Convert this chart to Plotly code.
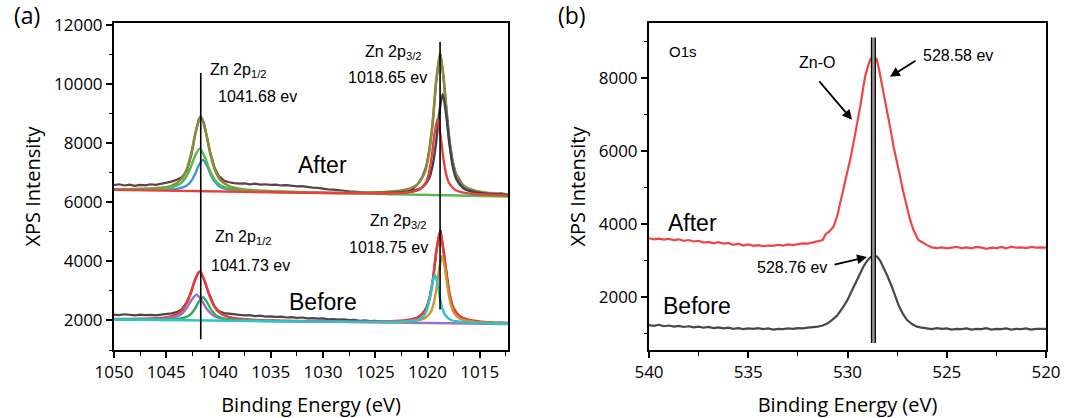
import plotly.graph_objects as go

# ---------------- Panel (a): Zn 2p ----------------
# After: raw spectrum (binding energy, intensity)
A_RAW = [(1050, 6580), (1049.5, 6610), (1049, 6570), (1048.5, 6600), (1048, 6560), (1047.5, 6590),
         (1047, 6575), (1046.5, 6610), (1046, 6590), (1045.5, 6630), (1045, 6650), (1044.5, 6700),
         (1044, 6760), (1043.5, 6850), (1043, 7090), (1042.6, 7600), (1042.2, 8350), (1041.9, 8800),
         (1041.7, 8920), (1041.4, 8700), (1041.1, 8200), (1040.8, 7700), (1040.4, 7200), (1040, 6900),
         (1039.5, 6740), (1039, 6680), (1038.5, 6650), (1038, 6630), (1037.5, 6640), (1037, 6610),
         (1036.5, 6630), (1036, 6600), (1035.5, 6610), (1035, 6590), (1034.5, 6600), (1034, 6570),
         (1033.5, 6580), (1033, 6560), (1032.5, 6540), (1032, 6550), (1031.5, 6520), (1031, 6500),
         (1030.5, 6490), (1030, 6460), (1029.5, 6440), (1029, 6430), (1028.5, 6400), (1028, 6390),
         (1027.5, 6370), (1027, 6360), (1026.5, 6340), (1026, 6330), (1025.5, 6310), (1025, 6320),
         (1024.5, 6290), (1024, 6300), (1023.5, 6280), (1023, 6310), (1022.5, 6300), (1022, 6340),
         (1021.5, 6420), (1021, 6590), (1020.5, 6850), (1020.1, 7250), (1019.8, 7850), (1019.5, 8700),
         (1019.2, 10000), (1018.95, 10700), (1018.75, 11000), (1018.5, 10300), (1018.2, 9200),
         (1017.9, 8100), (1017.6, 7400), (1017.3, 6980), (1017, 6800), (1016.6, 6570), (1016.2, 6480),
         (1015.8, 6420), (1015.4, 6350), (1015, 6310), (1014.5, 6290), (1014, 6310), (1013.5, 6280),
         (1013, 6300), (1012.5, 6270), (1012.3, 6280)]

A_ENV_X = [1050, 1047.22, 1045.38, 1044.46, 1043.54, 1043.08, 1042.62, 1042.16, 1041.7, 1041.24,
           1040.78, 1040.32, 1039.86, 1038.94, 1038.02, 1036.18, 1032.5, 1029,
           1026, 1023.12, 1021.68, 1020.96, 1020.24, 1019.88, 1019.52, 1019.16, 1018.8, 1018.44,
           1018.08, 1017.72, 1017.36, 1016.64, 1015.92, 1014.48, 1012.3]
A_ENV_Y = [6443, 6453, 6498, 6566, 6789, 7089, 7641, 8420, 8896, 8415,
           7631, 7075, 6770, 6538, 6460, 6395, 6346, 6325,
           6332, 6374, 6472, 6607, 7034, 7607, 8659, 10143, 11051, 10139,
           8652, 7596, 7019, 6585, 6442, 6330, 6270]

A_GREEN_X = [1050, 1047.5, 1045.6, 1044.65, 1043.7, 1043.23, 1042.75, 1042.28, 1041.8, 1041.33,
             1040.85, 1040.38, 1039.9, 1038.95, 1038.0, 1036.1, 1032.3, 1012.3]
A_GREEN_Y = [6434, 6433, 6455, 6492, 6616, 6787, 7101, 7545, 7817, 7540,
             7092, 6772, 6597, 6463, 6416, 6374, 6337, 6195]

A_BLUE_X = [1050, 1046.3, 1044.7, 1043.9, 1043.1, 1042.7, 1042.3, 1041.9, 1041.5, 1041.1,
            1040.7, 1040.3, 1039.9, 1039.1, 1038.3, 1036.7, 1033.5]
A_BLUE_Y = [6426, 6421, 6436, 6463, 6554, 6679, 6910, 7237, 7436, 7233,
            6902, 6667, 6537, 6437, 6402, 6371, 6341]

A_RED_X = [1050, 1030, 1024.55, 1022.35, 1021.25, 1020.7, 1020.15, 1019.88, 1019.6, 1019.33,
           1019.05, 1018.78, 1018.5, 1018.23, 1017.95, 1017.4, 1016.85, 1015.75, 1013.55, 1012.3]
A_RED_Y = [6420, 6317, 6305, 6324, 6375, 6447, 6673, 6977, 7537, 8327,
           8810, 8324, 7532, 6969, 6662, 6430, 6353, 6291, 6249, 6227]

A_GRAY_X = [1025.05, 1022.45, 1021.15, 1020.5, 1019.85, 1019.53, 1019.2, 1018.88, 1018.55, 1018.23,
            1017.9, 1017.58, 1017.25, 1016.6, 1015.95, 1014.65, 1012.3]
A_GRAY_Y = [6314, 6342, 6409, 6505, 6808, 7214, 7960, 9012, 9657, 9009,
            7954, 7204, 6794, 6485, 6383, 6302, 6250]

# Before
B_RAW = [(1050, 2200), (1049.5, 2180), (1049, 2210), (1048.5, 2190), (1048, 2170), (1047.5, 2200),
         (1047, 2180), (1046.5, 2190), (1046, 2170), (1045.5, 2200), (1045, 2210), (1044.5, 2240),
         (1044, 2280), (1043.5, 2380), (1043, 2640), (1042.6, 2980), (1042.2, 3420), (1041.9, 3630),
         (1041.7, 3650), (1041.4, 3400), (1041.1, 3080), (1040.8, 2800), (1040.4, 2480), (1040, 2320),
         (1039.5, 2250), (1039, 2230), (1038.5, 2200), (1038, 2190), (1037.5, 2170), (1037, 2180),
         (1036.5, 2150), (1036, 2160), (1035.5, 2130), (1035, 2140), (1034.5, 2120), (1034, 2130),
         (1033.5, 2100), (1033, 2110), (1032.5, 2090), (1032, 2100), (1031.5, 2070), (1031, 2080),
         (1030.5, 2060), (1030, 2070), (1029.5, 2040), (1029, 2050), (1028.5, 2030), (1028, 2040),
         (1027.5, 2010), (1027, 2020), (1026.5, 1990), (1026, 2000), (1025.5, 1980), (1025, 1990),
         (1024.5, 1960), (1024, 1970), (1023.5, 1950), (1023, 1960), (1022.5, 1970), (1022, 1990),
         (1021.5, 2030), (1021, 2090), (1020.5, 2230), (1020.1, 2430), (1019.8, 2780), (1019.5, 3350),
         (1019.2, 4230), (1018.95, 4800), (1018.75, 5060), (1018.5, 4450), (1018.2, 3600),
         (1017.9, 2900), (1017.6, 2480), (1017.3, 2290), (1017, 2170), (1016.6, 2080), (1016.2, 2030),
         (1015.8, 1990), (1015.4, 1940), (1015, 1950), (1014.5, 1920), (1014, 1940), (1013.5, 1910),
         (1013, 1930), (1012.5, 1920), (1012.3, 1910)]

B_RED_X = [1050, 1047.5, 1045.6, 1044.65, 1043.7, 1043.23, 1042.75, 1042.28, 1041.8, 1041.33,
           1040.85, 1040.38, 1039.9, 1038.95, 1038.0, 1036.1, 1032.3, 1029,
           1025.3, 1022.7, 1021.4, 1020.75, 1020.1, 1019.78, 1019.45, 1019.13, 1018.8, 1018.48,
           1018.15, 1017.83, 1017.5, 1016.85, 1016.2, 1014.9, 1012.3]
B_RED_Y = [2046, 2053, 2082, 2126, 2273, 2470, 2833, 3347, 3660, 3343,
           2827, 2460, 2259, 2106, 2054, 2011, 1977, 1962,
           1960, 1987, 2050, 2137, 2411, 2779, 3455, 4408, 4990, 4405,
           3450, 2772, 2401, 2122, 2030, 1958, 1912]

B_PURPLE_X = [1050, 1047.5, 1045.7, 1044.8, 1043.9, 1043.45, 1043.0, 1042.55, 1042.1, 1041.65,
              1041.2, 1040.75, 1040.3, 1039.4, 1038.5, 1036.7, 1033.1, 1012.3]
B_PURPLE_Y = [2038, 2038, 2050, 2072, 2146, 2250, 2439, 2707, 2871, 2704,
              2432, 2240, 2133, 2052, 2024, 1998, 1973, 1878]

B_GREEN_X = [1050, 1046, 1044.5, 1043.75, 1043, 1042.63, 1042.25, 1041.88, 1041.5, 1041.13,
             1040.75, 1040.38, 1040, 1039.25, 1038.5, 1037, 1034]
B_GREEN_Y = [2033, 2030, 2041, 2061, 2130, 2223, 2396, 2639, 2788, 2637,
             2390, 2215, 2119, 2045, 2019, 1996, 1976]

B_CYAN_X = [1050, 1035, 1024.3, 1022.3, 1021.3, 1020.8, 1020.3, 1020.05, 1019.8, 1019.55,
            1019.3, 1019.05, 1018.8, 1018.55, 1018.3, 1017.8, 1017.3, 1016.3, 1014.3, 1012.3]
B_CYAN_Y = [2030, 1974, 1946, 1958, 1991, 2037, 2182, 2378, 2738, 3245,
            3556, 3243, 2734, 2372, 2174, 2026, 1976, 1936, 1908, 1890]

B_ORANGE_X = [1024.1, 1021.9, 1020.8, 1020.25, 1019.7, 1019.43, 1019.15, 1018.88, 1018.6, 1018.33,
              1018.05, 1017.78, 1017.5, 1016.95, 1016.4, 1015.3, 1013.1, 1012.3]
B_ORANGE_Y = [1950, 1969, 2015, 2079, 2281, 2553, 3051, 3754, 4184, 3752,
              3047, 2547, 2273, 2067, 1999, 1945, 1909, 1895]

# peak marker lines in (a): position, lower end, upper end
A_PEAK_LINES = [(1041.7, 1360, 10380), (1018.8, 2370, 11430)]

# ---------------- Panel (b): O 1s ----------------
O_AFTER = [(540, 3610), (539.75, 3580), (539.5, 3600), (539.25, 3570), (539, 3590), (538.75, 3560),
           (538.5, 3580), (538.25, 3540), (538, 3560), (537.75, 3520), (537.5, 3540), (537.25, 3490),
           (537, 3510), (536.75, 3470), (536.5, 3500), (536.25, 3460), (536, 3480), (535.75, 3430),
           (535.5, 3460), (535.25, 3410), (535, 3440), (534.75, 3400), (534.5, 3420), (534.25, 3390),
           (534, 3410), (533.75, 3400), (533.5, 3430), (533.25, 3410), (533, 3440), (532.75, 3420),
           (532.5, 3450), (532.25, 3470), (532, 3460), (531.75, 3500), (531.5, 3530), (531.25, 3560),
           (531.1, 3720), (530.9, 3800), (530.7, 3930), (530.5, 4250), (530.37, 4570), (530.2, 4950),
           (530.03, 5390), (529.85, 5800), (529.7, 6210), (529.5, 6750), (529.36, 7210), (529.2, 7750),
           (529.11, 8040), (528.98, 8300), (528.86, 8490), (528.69, 8630), (528.52, 8490), (528.4, 8200),
           (528.27, 7850), (528.1, 7400), (527.94, 6940), (527.8, 6500), (527.68, 6120), (527.5, 5700),
           (527.35, 5300), (527.2, 4900), (527.01, 4470), (526.85, 4120), (526.68, 3840), (526.55, 3680),
           (526.43, 3560), (526.3, 3520), (526.17, 3470), (526, 3420), (525.75, 3360), (525.5, 3340),
           (525.25, 3360), (525, 3330), (524.75, 3350), (524.5, 3370), (524.25, 3340), (524, 3360),
           (523.75, 3330), (523.5, 3370), (523.25, 3350), (523, 3320), (522.75, 3350), (522.5, 3340),
           (522.25, 3370), (522, 3330), (521.75, 3380), (521.5, 3350), (521.25, 3360), (521, 3340),
           (520.75, 3370), (520.5, 3350), (520.25, 3360), (520, 3350)]

O_BEFORE = [(540, 1230), (539.75, 1210), (539.5, 1240), (539.25, 1200), (539, 1220), (538.75, 1190),
            (538.5, 1210), (538.25, 1180), (538, 1200), (537.75, 1170), (537.5, 1190), (537.25, 1160),
            (537, 1180), (536.75, 1150), (536.5, 1170), (536.25, 1140), (536, 1160), (535.75, 1130),
            (535.5, 1150), (535.25, 1120), (535, 1140), (534.75, 1130), (534.5, 1150), (534.25, 1120),
            (534, 1140), (533.75, 1110), (533.5, 1130), (533.25, 1120), (533, 1140), (532.75, 1130),
            (532.5, 1150), (532.25, 1140), (532, 1160), (531.75, 1170), (531.5, 1190), (531.25, 1220),
            (531, 1280), (530.75, 1380), (530.5, 1510), (530.25, 1700), (530, 1920), (529.8, 2150),
            (529.6, 2380), (529.4, 2600), (529.2, 2830), (529.05, 2960), (528.9, 3060), (528.7, 3150),
            (528.5, 3100), (528.35, 2990), (528.2, 2830), (528, 2590), (527.8, 2330), (527.6, 2030),
            (527.4, 1740), (527.2, 1530), (527, 1370), (526.75, 1260), (526.5, 1190), (526.25, 1160),
            (526, 1140), (525.75, 1120), (525.5, 1150), (525.25, 1130), (525, 1140), (524.75, 1110),
            (524.5, 1130), (524.25, 1120), (524, 1140), (523.75, 1110), (523.5, 1130), (523.25, 1120),
            (523, 1150), (522.75, 1110), (522.5, 1130), (522.25, 1120), (522, 1140), (521.75, 1110),
            (521.5, 1130), (521.25, 1120), (521, 1140), (520.75, 1110), (520.5, 1130), (520.25, 1120),
            (520, 1130)]

B_PEAK_LINES = [528.79, 528.60]
B_PEAK_SPAN = (740, 9100)

fig = go.Figure()


def add(x, y, color, width=2.4, xa="x", ya="y", spline=True):
    fig.add_trace(go.Scatter(
        x=list(x), y=list(y), mode="lines", xaxis=xa, yaxis=ya, hoverinfo="skip",
        line=dict(color=color, width=width, shape="spline" if spline else "linear",
                  smoothing=0.8)))


def unzip(pairs):
    return [p[0] for p in pairs], [p[1] for p in pairs]


# Panel (a) - After
rx, ry = unzip(A_RAW)
add(rx, ry, "#5e4044", width=2.2, spline=False)
add(A_ENV_X, A_ENV_Y, "#8c8c3e", width=2.6)
add(A_BLUE_X, A_BLUE_Y, "#4b8fd6")
add(A_GREEN_X, A_GREEN_Y, "#55b84a")
add(A_GRAY_X, A_GRAY_Y, "#3e4451")
add(A_RED_X, A_RED_Y, "#e8413c")

# Panel (a) - Before
rx, ry = unzip(B_RAW)
add(rx, ry, "#484848", width=2.2, spline=False)
add(B_RED_X, B_RED_Y, "#e83c3c", width=2.6)
add(B_PURPLE_X, B_PURPLE_Y, "#9b72c6")
add(B_GREEN_X, B_GREEN_Y, "#2fae5e")
add(B_ORANGE_X, B_ORANGE_Y, "#c99a2e")
add(B_CYAN_X, B_CYAN_Y, "#2ec3c9")

for px, y0, y1 in A_PEAK_LINES:
    add([px, px], [y0, y1], "black", width=1.6, spline=False)

# Panel (b)
rx, ry = unzip(O_AFTER)
add(rx, ry, "#ee4545", width=2.2, xa="x2", ya="y2", spline=False)
rx, ry = unzip(O_BEFORE)
add(rx, ry, "#484848", width=2.2, xa="x2", ya="y2", spline=False)
mid = sum(B_PEAK_LINES) / len(B_PEAK_LINES)
add([mid, mid], list(B_PEAK_SPAN), "#9a9a9a", width=3.5, xa="x2", ya="y2", spline=False)
for px in B_PEAK_LINES:
    add([px, px], list(B_PEAK_SPAN), "black", width=1.3, xa="x2", ya="y2", spline=False)

AXFONT = "Open Sans"
TXTFONT = "Liberation Sans"

base_axis = dict(showline=True, linewidth=2, linecolor="black", mirror=True,
                 ticks="outside", ticklen=6, tickwidth=1.5, tickcolor="black",
                 showgrid=False, zeroline=False, automargin=False,
                 tickfont=dict(size=17, family=AXFONT, color="black"))

ydom = [1 - 350 / 418, 1 - 23 / 418]
title_font = dict(size=20, family=AXFONT, color="black")
minor_tick = dict(ticks="outside", ticklen=3.5, tickwidth=1.2, tickcolor="black", showgrid=False)

fig.update_layout(
    template="none",
    width=1074, height=418,
    margin=dict(l=0, r=0, t=0, b=0, autoexpand=False),
    paper_bgcolor="white", plot_bgcolor="white", showlegend=False,
    xaxis=dict(base_axis, domain=[114 / 1074, 508 / 1074], range=[1050, 1012.3], anchor="y",
               tickmode="linear", tick0=1015, dtick=5,
               minor=dict(minor_tick, dtick=2.5, tick0=1015),
               title=dict(text="Binding Energy (eV)", font=title_font, standoff=16)),
    yaxis=dict(base_axis, domain=ydom, range=[1000, 12070], anchor="x",
               tickmode="linear", tick0=0, dtick=2000, tickformat="d",
               minor=dict(minor_tick, dtick=1000, tick0=0),
               title=dict(text="XPS Intensity", font=title_font, standoff=8)),
    xaxis2=dict(base_axis, domain=[649 / 1074, 1046 / 1074], range=[540, 520], anchor="y2",
                tickmode="linear", tick0=520, dtick=5,
                minor=dict(minor_tick, dtick=2.5, tick0=520),
                title=dict(text="Binding Energy (eV)", font=title_font, standoff=16)),
    yaxis2=dict(base_axis, domain=ydom, range=[550, 9500], anchor="x2",
                tickmode="linear", tick0=0, dtick=2000, tickformat="d",
                minor=dict(minor_tick, dtick=1000, tick0=0),
                title=dict(text="XPS Intensity", font=title_font, standoff=8)),
)


def txt(x, y, s, size=16, xref="x", yref="y", family=TXTFONT):
    fig.add_annotation(x=x, y=y, xref=xref, yref=yref, text=s, showarrow=False,
                       xanchor="center", yanchor="middle",
                       font=dict(size=size, family=family, color="black"))


def arrow(x, y, ax, ay):
    fig.add_annotation(x=x, y=y, xref="x2", yref="y2", ax=ax, ay=ay, text="", showarrow=True,
                       arrowhead=2, arrowsize=1.1, arrowwidth=1.8, arrowcolor="black")


# Panel (a) labels
txt(1038.1, 10479, "Zn 2p<sub>1/2</sub>")
txt(1036.3, 9567, "1041.68 ev")
txt(1023.27, 11087, "Zn 2p<sub>3/2</sub>")
txt(1023.85, 10242, "1018.65 ev")
txt(1030.07, 7270, "After", size=23)
txt(1037.64, 4804, "Zn 2p<sub>1/2</sub>")
txt(1036.97, 3858, "1041.73 ev")
txt(1022.8, 5344, "Zn 2p<sub>3/2</sub>")
txt(1023.75, 4466, "1018.75 ev")
txt(1029.98, 2642, "Before", size=23)

# Panel (b) labels
txt(538.29, 8713, "O1s", size=15, xref="x2", yref="y2")
txt(531.54, 8412, "Zn-O", size=16, xref="x2", yref="y2")
txt(524.43, 8603, "528.58 ev", size=16, xref="x2", yref="y2")
txt(532.8, 2795, "528.76 ev", size=16, xref="x2", yref="y2")
txt(537.83, 4028, "After", size=23, xref="x2", yref="y2")
txt(537.58, 1753, "Before", size=23, xref="x2", yref="y2")
arrow(529.77, 6850, -34, -40)
arrow(527.86, 8028, 27, -17)
arrow(529.02, 3096, -34, 8)

# panel letters
txt(27 / 1074, 1 - 15 / 418, "(a)", size=23, xref="paper", yref="paper", family=AXFONT)
txt(572 / 1074, 1 - 15 / 418, "(b)", size=23, xref="paper", yref="paper", family=AXFONT)

fig.write_html("out.html", config={"displayModeBar": False},
               post_script="document.body.style.margin='0';document.body.style.padding='0';")
